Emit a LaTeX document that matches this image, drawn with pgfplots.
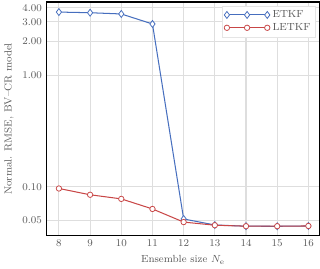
\documentclass[border=0pt]{standalone}
\usepackage{pgfplots}
\pgfplotsset{compat=1.18}
\definecolor{cblue}{RGB}{70,110,190}
\definecolor{cred}{RGB}{200,70,70}
\definecolor{txt}{RGB}{90,90,90}
\begin{document}
\begin{tikzpicture}
\begin{axis}[
  scale only axis,
  width=211.6pt, height=181pt,
  ymode=log,
  xmin=7.6, xmax=16.35,
  ymin=0.0365, ymax=4.5,
  xtick={8,...,16},
  ytick={0.05,0.1,1,2,3,4},
  yticklabels={0.05,0.10,1.00,2.00,3.00,4.00},
  minor ytick={},
  grid=major,
  grid style={black!13, line width=0.8pt},
  major tick length=0pt,
  axis line style={black, line width=1.1pt},
  tick label style={font=\footnotesize, text=txt},
  label style={font=\footnotesize, text=txt},
  xlabel={Ensemble size $N_\mathrm{e}$},
  ylabel={Normal. RMSE, BV--CR model},
  legend style={at={(0.985,0.985)}, anchor=north east, font=\footnotesize, text=txt, draw=black!10, fill=white, inner sep=1.5pt, row sep=-1pt},
  legend cell align=left,
  legend image code/.code={\draw[mark repeat=1,#1] plot coordinates {(0cm,0cm) (0.55cm,0cm) (1.1cm,0cm)};},
]
\addplot[cblue, line width=0.8pt, mark=diamond*, mark size=2.7pt, mark options={fill=white, line width=0.6pt}]
  coordinates {(8,3.67) (9,3.62) (10,3.53) (11,2.87) (12,0.0514) (13,0.0454) (14,0.0443) (15,0.0442) (16,0.0445)};
\addlegendentry{ETKF}
\addplot[cred, line width=0.8pt, mark=*, mark size=2.1pt, mark options={fill=white, line width=0.6pt}]
  coordinates {(8,0.0964) (9,0.0847) (10,0.0778) (11,0.0632) (12,0.0482) (13,0.0452) (14,0.0443) (15,0.0443) (16,0.0445)};
\addlegendentry{LETKF}
\end{axis}
\end{tikzpicture}
\end{document}
